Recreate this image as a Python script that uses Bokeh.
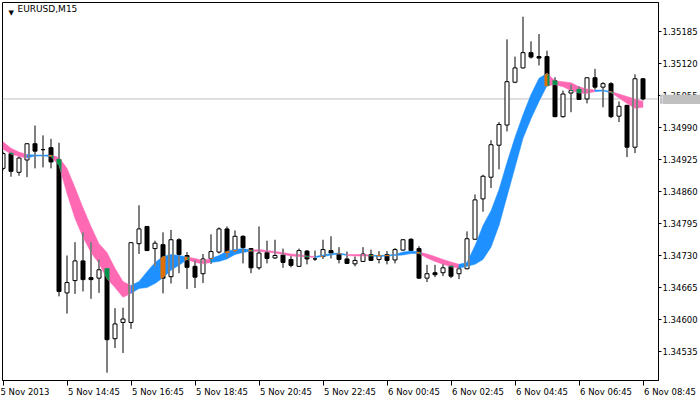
import math
from bokeh.plotting import figure
from bokeh.layouts import column
from bokeh.models import Range1d, FixedTicker, PrintfTickFormatter, Label, Span
from bokeh.embed import file_html
from bokeh.resources import INLINE

# ---------------- data ----------------
symbol = "EURUSD,M15"
x_tick_pos = [0, 8, 16, 24, 32, 40, 48, 56, 64, 72, 80]
x_tick_labels = ["5 Nov 2013", "5 Nov 14:45", "5 Nov 16:45", "5 Nov 18:45", "5 Nov 20:45",
                 "5 Nov 22:45", "6 Nov 00:45", "6 Nov 02:45", "6 Nov 04:45", "6 Nov 06:45",
                 "6 Nov 08:45"]
y_ticks = [1.34535, 1.34600, 1.34665, 1.34730, 1.34795, 1.34860, 1.34925, 1.34990,
           1.35055, 1.35120, 1.35185]

opens = [1.34906, 1.34936, 1.34898, 1.34923, 1.34956, 1.34944, 1.34948, 1.34924, 1.34653, 1.34678,
         1.34718, 1.34684, 1.34683, 1.34702, 1.34560, 1.34593, 1.34593, 1.34753, 1.34788, 1.34743,
         1.34751, 1.34686, 1.34761, 1.34729, 1.34707, 1.34692, 1.34723, 1.34736, 1.34783, 1.34739,
         1.34768, 1.34743, 1.34704, 1.34735, 1.34724, 1.34730, 1.34721, 1.34707, 1.34738, 1.34722,
         1.34727, 1.34739, 1.34732, 1.34722, 1.34712, 1.34717, 1.34731, 1.34721, 1.34731, 1.34720,
         1.34740, 1.34762, 1.34743, 1.34683, 1.34694, 1.34694, 1.34707, 1.34692, 1.34702, 1.34762,
         1.34844, 1.34888, 1.34953, 1.34994, 1.35081, 1.35110, 1.35141, 1.35133, 1.35133, 1.35084,
         1.35011, 1.35059, 1.35066, 1.35047, 1.35090, 1.35071, 1.35078, 1.35012, 1.35034, 1.34949,
         1.35088]
highs = [1.34940, 1.34940, 1.34930, 1.34957, 1.34993, 1.34973, 1.34966, 1.34958, 1.34729, 1.34756,
         1.34776, 1.34756, 1.34721, 1.34703, 1.34622, 1.34623, 1.34756, 1.34831, 1.34789, 1.34759,
         1.34776, 1.34781, 1.34764, 1.34736, 1.34719, 1.34732, 1.34772, 1.34786, 1.34788, 1.34780,
         1.34770, 1.34744, 1.34788, 1.34759, 1.34761, 1.34743, 1.34728, 1.34743, 1.34740, 1.34739,
         1.34761, 1.34768, 1.34746, 1.34737, 1.34727, 1.34746, 1.34741, 1.34738, 1.34738, 1.34744,
         1.34762, 1.34764, 1.34748, 1.34710, 1.34710, 1.34712, 1.34709, 1.34707, 1.34778, 1.34853,
         1.34893, 1.34963, 1.35000, 1.35168, 1.35133, 1.35214, 1.35164, 1.35179, 1.35145, 1.35091,
         1.35064, 1.35076, 1.35072, 1.35091, 1.35108, 1.35081, 1.35081, 1.35042, 1.35035, 1.35097,
         1.35089]
lows = [1.34902, 1.34889, 1.34891, 1.34888, 1.34906, 1.34908, 1.34906, 1.34646, 1.34611, 1.34651,
        1.34656, 1.34641, 1.34653, 1.34491, 1.34541, 1.34531, 1.34580, 1.34732, 1.34738, 1.34707,
        1.34652, 1.34672, 1.34693, 1.34661, 1.34663, 1.34673, 1.34712, 1.34733, 1.34725, 1.34735,
        1.34713, 1.34693, 1.34700, 1.34713, 1.34722, 1.34704, 1.34705, 1.34706, 1.34711, 1.34718,
        1.34722, 1.34723, 1.34713, 1.34712, 1.34707, 1.34716, 1.34718, 1.34713, 1.34711, 1.34713,
        1.34739, 1.34738, 1.34682, 1.34675, 1.34685, 1.34687, 1.34683, 1.34681, 1.34701, 1.34761,
        1.34818, 1.34866, 1.34904, 1.34981, 1.35079, 1.35109, 1.35129, 1.35115, 1.35073, 1.35010,
        1.35009, 1.35020, 1.35045, 1.35038, 1.35066, 1.35030, 1.35008, 1.35000, 1.34929, 1.34937,
        1.35044]
closes = [1.34936, 1.34900, 1.34927, 1.34956, 1.34941, 1.34944, 1.34919, 1.34656, 1.34674, 1.34718,
          1.34680, 1.34680, 1.34700, 1.34558, 1.34590, 1.34600, 1.34755, 1.34783, 1.34739, 1.34754,
          1.34683, 1.34761, 1.34731, 1.34705, 1.34685, 1.34722, 1.34737, 1.34783, 1.34735, 1.34768,
          1.34745, 1.34704, 1.34734, 1.34723, 1.34729, 1.34715, 1.34709, 1.34739, 1.34722, 1.34722,
          1.34741, 1.34734, 1.34721, 1.34713, 1.34719, 1.34732, 1.34719, 1.34729, 1.34719, 1.34741,
          1.34761, 1.34739, 1.34683, 1.34692, 1.34690, 1.34704, 1.34687, 1.34702, 1.34763, 1.34842,
          1.34890, 1.34954, 1.34995, 1.35082, 1.35110, 1.35141, 1.35132, 1.35130, 1.35074, 1.35011,
          1.35057, 1.35064, 1.35046, 1.35090, 1.35071, 1.35078, 1.35011, 1.35032, 1.34949, 1.35088,
          1.35047]

# indicator band (upper / lower edge per bar) and its direction (+1 rising, -1 falling)
band_upper = [1.34960, 1.34947, 1.34939, 1.34934, 1.34933, 1.34933, 1.34933, 1.34928, 1.34906, 1.34867,
              1.34826, 1.34788, 1.34753, 1.34735, 1.34703, 1.34676, 1.34668, 1.34676, 1.34696, 1.34715,
              1.34727, 1.34731, 1.34729, 1.34726, 1.34723, 1.34719, 1.34723, 1.34729, 1.34738, 1.34741,
              1.34743, 1.34740, 1.34741, 1.34739, 1.34737, 1.34735, 1.34732, 1.34731, 1.34728, 1.34727,
              1.34730, 1.34733, 1.34734, 1.34731, 1.34731, 1.34731, 1.34730, 1.34729, 1.34730, 1.34731,
              1.34736, 1.34738, 1.34736, 1.34732, 1.34727, 1.34721, 1.34716, 1.34711, 1.34715, 1.34749,
              1.34790, 1.34820, 1.34863, 1.34918, 1.34969, 1.35015, 1.35056, 1.35089, 1.35099, 1.35084,
              1.35082, 1.35080, 1.35072, 1.35067, 1.35065, 1.35065, 1.35062, 1.35057, 1.35052, 1.35047,
              1.35042]
band_lower = [1.34945, 1.34935, 1.34930, 1.34927, 1.34931, 1.34931, 1.34930, 1.34912, 1.34855, 1.34804,
              1.34766, 1.34735, 1.34713, 1.34682, 1.34664, 1.34644, 1.34652, 1.34662, 1.34664, 1.34672,
              1.34684, 1.34699, 1.34709, 1.34721, 1.34715, 1.34712, 1.34715, 1.34717, 1.34722, 1.34731,
              1.34735, 1.34738, 1.34737, 1.34736, 1.34734, 1.34731, 1.34728, 1.34727, 1.34726, 1.34725,
              1.34727, 1.34730, 1.34732, 1.34729, 1.34728, 1.34728, 1.34728, 1.34727, 1.34728, 1.34729,
              1.34730, 1.34733, 1.34733, 1.34724, 1.34717, 1.34711, 1.34706, 1.34703, 1.34707, 1.34711,
              1.34721, 1.34746, 1.34790, 1.34849, 1.34908, 1.34967, 1.35007, 1.35042, 1.35074, 1.35076,
              1.35072, 1.35064, 1.35059, 1.35058, 1.35062, 1.35063, 1.35060, 1.35049, 1.35038, 1.35028,
              1.35030]
trend = [-1, -1, -1, -1, 1, 1, 1,
         -1, -1, -1, -1, -1, -1, -1, -1, -1, -1,
         1, 1, 1, 1, 1, 1, 1,
         -1, -1, -1,
         1, 1, 1, 1, 1,
         -1, -1, -1, -1, -1, -1, -1, -1,
         1, 1, 1, 1,
         -1, -1, -1,
         1, 1, 1, 1, 1, 1,
         -1, -1, -1, -1, -1,
         1, 1, 1, 1, 1, 1, 1, 1, 1, 1, 1,
         -1, -1, -1, -1, -1, -1,
         1, 1,
         -1, -1, -1, -1]
last_price = 1.35047

# ---------------- styling ----------------
UP_COLOR = "#1E90FF"
DOWN_COLOR = "#FF69B4"
FONT = "DejaVu Sans"
LABEL_PX = 8.5


def invert(hexcol):
    h = hexcol.lstrip("#")
    r, g, b = (int(h[k:k + 2], 16) for k in (0, 2, 4))
    return "#%02X%02X%02X" % (255 - r, 255 - g, 255 - b)


n = len(opens)
FIG_W, FIG_H = 700, 399
LEFT, TOP, RIGHT, BOTTOM = 2, 2, 42, 19
FRAME_W, FRAME_H = FIG_W - LEFT - RIGHT, FIG_H - TOP - BOTTOM
X0 = -0.0625
X1 = X0 + FRAME_W / 8.0
Y0, Y1 = 1.344751, 1.352429
px_x = (X1 - X0) / FRAME_W
px_y = (Y1 - Y0) / FRAME_H
W = 4 * px_x

p = figure(width=FIG_W, height=FIG_H, x_range=Range1d(X0, X1), y_range=Range1d(Y0, Y1),
           output_backend="svg", toolbar_location=None, y_axis_location="right",
           min_border_left=LEFT, min_border_top=TOP, min_border_right=RIGHT,
           min_border_bottom=BOTTOM)
p.background_fill_color = "white"
p.border_fill_color = "white"
p.outline_line_color = "black"
p.outline_line_width = 1
p.grid.visible = False

p.add_layout(Span(location=last_price, dimension="width", line_color="#C0C0C0",
                  line_width=1, level="underlay"))

# ---------------- candles ----------------
xs = list(range(n))
body_top = [max(o, c) for o, c in zip(opens, closes)]
body_bot = [min(o, c) for o, c in zip(opens, closes)]
is_up = [c >= o for o, c in zip(opens, closes)]
up_i = [i for i in xs if is_up[i]]
dn_i = [i for i in xs if not is_up[i]]

p.segment(x0=xs, y0=lows, x1=xs, y1=highs, line_color="black", line_width=1)
p.vbar(x=up_i, width=W, top=[body_top[i] for i in up_i], bottom=[body_bot[i] for i in up_i],
       fill_color="white", line_color="black", line_width=1)
p.vbar(x=dn_i, width=W, top=[body_top[i] for i in dn_i], bottom=[body_bot[i] for i in dn_i],
       fill_color="black", line_color="black", line_width=1)

# ---------------- band ----------------
runs = []
s = 1
while s < n:
    t = trend[s]
    e = s
    while e + 1 < n and trend[e + 1] == t:
        e += 1
    runs.append((s, e, t))
    s = e + 1

band_xs, band_ys, band_cs = [], [], []
for s, e, t in runs:
    bars = list(range(s - 1, e + 1))
    band_xs.append(bars + bars[::-1])
    band_ys.append([band_upper[b] for b in bars] + [band_lower[b] for b in bars[::-1]])
    band_cs.append(UP_COLOR if t > 0 else DOWN_COLOR)
p.patches(xs=band_xs, ys=band_ys, fill_color=band_cs, line_color=band_cs, line_width=0.5)


# ---------------- XOR-like overlap (band over black pixels) ----------------
def interp(arr, x):
    i0 = max(0, min(n - 2, int(math.floor(x))))
    t = x - i0
    return arr[i0] + (arr[i0 + 1] - arr[i0]) * t


def bhi(x):
    return interp(band_upper, x)


def blo(x):
    return interp(band_lower, x)


def seg_color(k):
    k = max(1, min(n - 1, k))
    return invert(UP_COLOR if trend[k] > 0 else DOWN_COLOR)


ov_x, ov_y, ov_c = [], [], []
sg = dict(x0=[], y0=[], x1=[], y1=[], c=[])


def add_seg(x0, y0, x1, y1, c):
    sg["x0"].append(x0); sg["y0"].append(y0)
    sg["x1"].append(x1); sg["y1"].append(y1)
    sg["c"].append(c)


def clip_poly(xa, xb, lo, hi, col, K=8):
    tops, bots = [], []
    any_ov = False
    for k in range(K + 1):
        xx = xa + (xb - xa) * k / K
        t = min(bhi(xx), hi)
        b = max(blo(xx), lo)
        if t > b:
            any_ov = True
        else:
            v = hi if blo(xx) > hi else lo
            t = b = v
        tops.append((xx, t))
        bots.append((xx, b))
    if any_ov:
        ov_x.append([q[0] for q in tops] + [q[0] for q in bots[::-1]])
        ov_y.append([q[1] for q in tops] + [q[1] for q in bots[::-1]])
        ov_c.append(col)


for i in xs:
    lo, hi = body_bot[i], body_top[i]
    if not is_up[i]:
        hw = W / 2 + 0.5 * px_x
        if i >= 1:
            clip_poly(i - hw, i, lo - 0.5 * px_y, hi + 0.5 * px_y, seg_color(i))
        if i + 1 < n:
            clip_poly(i, i + hw, lo - 0.5 * px_y, hi + 0.5 * px_y, seg_color(i + 1))
        a = max(lows[i], blo(i))
        b = min(highs[i], bhi(i))
        if b > a:
            add_seg(i, a, i, b, seg_color(i))
    else:
        for xx, k in ((i - W / 2, i), (i + W / 2, i + 1)):
            if k < 1 or k >= n:
                continue
            a = max(blo(xx), lo)
            b = min(bhi(xx), hi)
            if b > a:
                add_seg(xx, a, xx, b, seg_color(k))
        for yy in (lo, hi):
            for xa, xb, k in ((i - W / 2, i, i), (i, i + W / 2, i + 1)):
                if k < 1 or k >= n:
                    continue
                inside = []
                for m in range(7):
                    xx = xa + (xb - xa) * m / 6
                    if blo(xx) <= yy <= bhi(xx):
                        inside.append(xx)
                if inside:
                    add_seg(min(inside), yy, max(inside), yy, seg_color(k))
        a = max(hi, blo(i)); b = min(highs[i], bhi(i))
        if b > a and i >= 1:
            add_seg(i, a, i, b, seg_color(i))
        a = max(lows[i], blo(i)); b = min(lo, bhi(i))
        if b > a and i >= 1:
            add_seg(i, a, i, b, seg_color(i))

if ov_x:
    p.patches(xs=ov_x, ys=ov_y, fill_color=ov_c, line_color=None)
if sg["x0"]:
    p.segment(x0="x0", y0="y0", x1="x1", y1="y1", line_color="c", line_width=1, source=sg)

# ---------------- axes ----------------
yax = p.yaxis[0]
yax.ticker = FixedTicker(ticks=y_ticks)
yax.formatter = PrintfTickFormatter(format="%.5f")
yax.major_tick_in = 0
yax.major_tick_out = 3
yax.minor_tick_line_color = None
yax.major_label_standoff = 1
yax.major_label_text_font = FONT
yax.major_label_text_font_size = "%gpx" % LABEL_PX
yax.major_label_text_color = "black"
yax.axis_line_color = "black"

# MetaTrader puts the time label to the right of its tick: centre the label on the tick
# but lead it with no-break spaces about as wide as the label itself.  The very first
# label is pushed inside the canvas by Bokeh anyway, so it is left as it is.
ADV = {" ": 0.318, "\u00A0": 0.318, "N": 0.748, "o": 0.612, "v": 0.592, ":": 0.337}


def text_w(txt):
    return sum(ADV.get(ch, 0.636) for ch in txt) * LABEL_PX


def left_aligned(txt):
    k = int(round((text_w(txt) + 2.0) / (ADV["\u00A0"] * LABEL_PX)))
    return "\u00A0" * k + txt


xax = p.xaxis[0]
xax.ticker = FixedTicker(ticks=x_tick_pos)
xax.major_label_overrides = {pos: (lab if j == 0 else left_aligned(lab))
                             for j, (pos, lab) in enumerate(zip(x_tick_pos, x_tick_labels))}
xax.major_tick_in = 0
xax.major_tick_out = 5
xax.minor_tick_line_color = None
xax.major_label_standoff = 1
xax.major_label_text_font = FONT
xax.major_label_text_font_size = "%gpx" % LABEL_PX
xax.major_label_text_color = "black"
xax.axis_line_color = "black"

# ---------------- in-chart labels ----------------
p.add_layout(Label(x=X0, y=Y1, x_offset=6, y_offset=-6, text="\u25BC", text_font=FONT,
                   text_font_size="7px", text_baseline="top", text_color="black"))
p.add_layout(Label(x=X0, y=Y1, x_offset=15, y_offset=-1.5, text=symbol, text_font=FONT,
                   text_font_size="9px", text_baseline="top", text_color="black"))

# ---------------- last price tag on the price scale ----------------
BOX_W, BOX_H = 40, 11
y_last = TOP + (Y1 - last_price) / px_y
q = figure(width=BOX_W, height=BOX_H, x_range=Range1d(0, 1), y_range=Range1d(0, 1),
           output_backend="svg", toolbar_location=None, x_axis_type=None, y_axis_type=None,
           min_border=0, margin=(int(round(y_last - BOX_H / 2.0)) - FIG_H, 0, 0, FIG_W - BOX_W))
q.styles = {"position": "relative", "z-index": "10"}
q.background_fill_color = "#C0C0C0"
q.border_fill_color = "#C0C0C0"
q.outline_line_color = None
q.grid.visible = False
q.add_layout(Label(x=2, y=BOX_H / 2.0, x_units="screen", y_units="screen",
                   text="%.5f" % last_price, text_font=FONT, text_font_size="%gpx" % LABEL_PX,
                   text_baseline="middle", text_color="white"))

layout = column(p, q, spacing=0)
open("out.html", "w").write(file_html(layout, INLINE))
